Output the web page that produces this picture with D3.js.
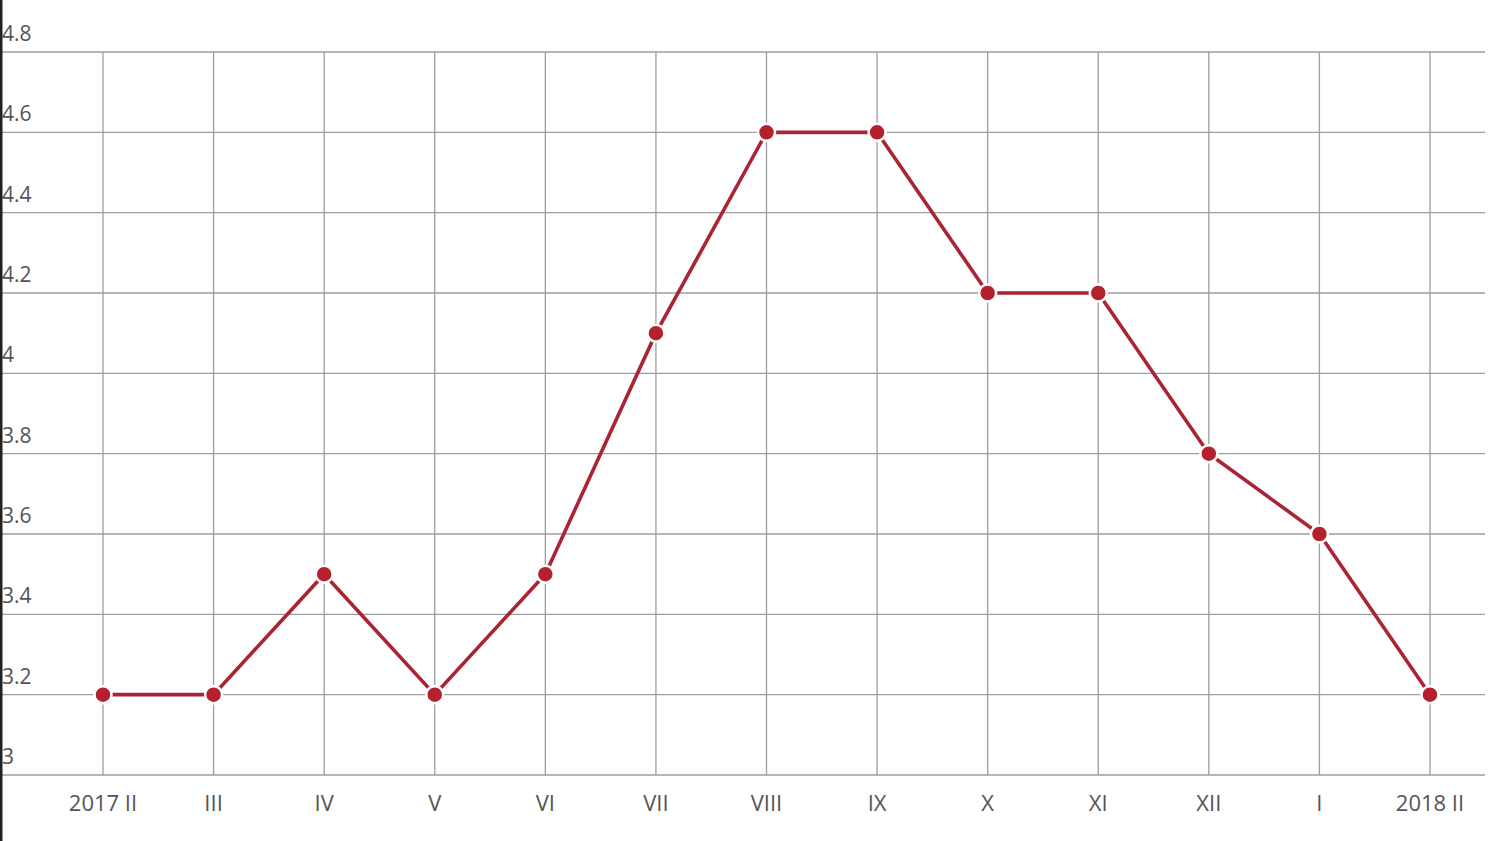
<!DOCTYPE html>
<html><head><meta charset="utf-8">
<script src="https://cdn.jsdelivr.net/npm/d3@7"></script>
<style>
html,body{margin:0;padding:0;background:#fff;overflow:hidden;}
text{font-family:"Open Sans",sans-serif;}
</style></head>
<body><svg id="c" width="1500" height="841"></svg>
<script>
const categories = ["2017 II","III","IV","V","VI","VII","VIII","IX","X","XI","XII","I","2018 II"];
const values = [3.2,3.2,3.5,3.2,3.5,4.1,4.6,4.6,4.2,4.2,3.8,3.6,3.2];
const yTicks = [3,3.2,3.4,3.6,3.8,4,4.2,4.4,4.6,4.8];

const svg = d3.select("#c");
const x = d3.scalePoint().domain(categories).range([103,1430]);
const y = d3.scaleLinear().domain([3,4.8]).range([775,52]);

// horizontal grid
svg.append("g").selectAll("line").data(yTicks).join("line")
  .attr("x1",0).attr("x2",1485)
  .attr("y1",d=>y(d)).attr("y2",d=>y(d))
  .attr("stroke","#9e9e9e").attr("stroke-width",1.3);
// vertical grid
svg.append("g").selectAll("line").data(categories).join("line")
  .attr("x1",d=>x(d)).attr("x2",d=>x(d))
  .attr("y1",y(4.8)).attr("y2",y(3))
  .attr("stroke","#9e9e9e").attr("stroke-width",1.3);

// y labels
svg.append("g").selectAll("text").data(yTicks).join("text")
  .attr("x",2).attr("y",d=>y(d)-11)
  .attr("fill","#555").attr("font-size",21)
  .text(d=>d3.format("~g")(d));

// x labels
svg.append("g").selectAll("text").data(categories).join("text")
  .attr("x",d=>x(d)).attr("y",811)
  .attr("text-anchor","middle")
  .attr("fill","#555").attr("font-size",22)
  .text(d=>d);

// line
const line = d3.line().x((d,i)=>x(categories[i])).y(d=>y(d));
svg.append("path").datum(values)
  .attr("d",line).attr("fill","none")
  .attr("stroke","#a92535").attr("stroke-width",3.6);

svg.append("g").selectAll("circle").data(values).join("circle")
  .attr("cx",(d,i)=>x(categories[i])).attr("cy",d=>y(d))
  .attr("r",8.5).attr("fill","#b5202d")
  .attr("stroke","#fff").attr("stroke-width",2.5);

// left border
svg.append("rect").attr("x",0).attr("y",0).attr("width",2.5).attr("height",841).attr("fill","#222");
</script></body></html>
